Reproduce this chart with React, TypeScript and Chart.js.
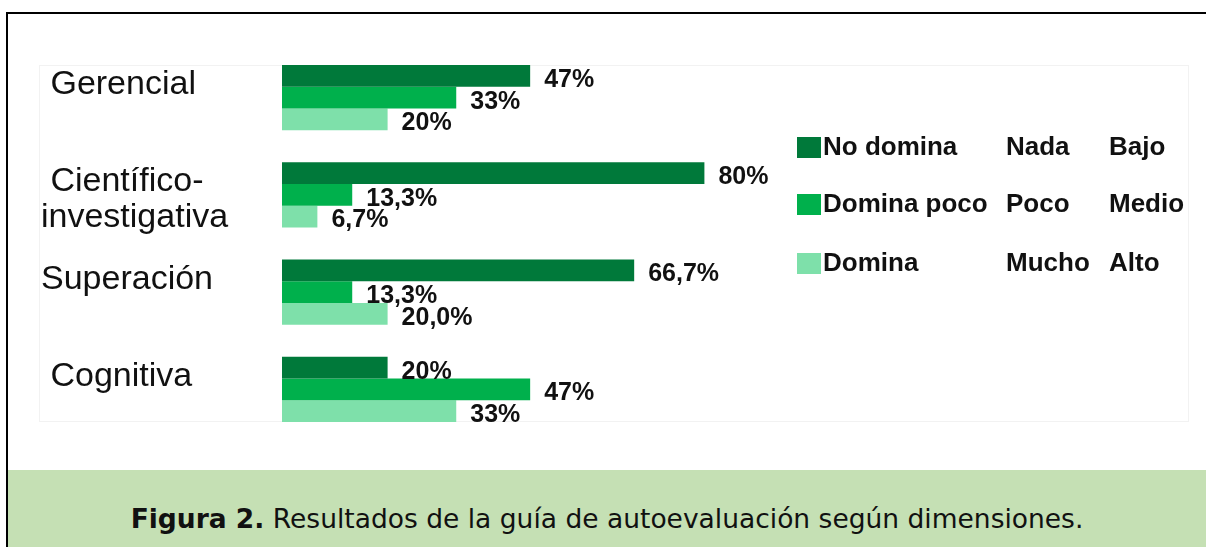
import React, { useEffect, useRef } from "react";
import { Chart, registerables } from "chart.js";

Chart.register(...registerables);

const categories: (string | string[])[] = [" Gerencial", ["", " Científico-", "investigativa"], "Superación", " Cognitiva"];
const seriesNames = ["No domina", "Domina poco", "Domina"];
const legendCol2 = ["Nada", "Poco", "Mucho"];
const legendCol3 = ["Bajo", "Medio", "Alto"];
const noDomina = [47, 80, 66.7, 20];
const dominaPoco = [33, 13.3, 13.3, 47];
const domina = [20, 6.7, 20.0, 33];
const noDominaLabels = ["47%", "80%", "66,7%", "20%"];
const dominaPocoLabels = ["33%", "13,3%", "13,3%", "47%"];
const dominaLabels = ["20%", "6,7%", "20,0%", "33%"];
const colors = ["#00793A", "#00B04C", "#7EE0AA"];
const caption = "Resultados de la guía de autoevaluación según dimensiones.";

const FONT = "'Liberation Sans', Arial, sans-serif";

const valueLabelPlugin = {
  id: "valueLabels",
  afterDatasetsDraw(chart: any) {
    const ctx = chart.ctx;
    const allLabels = [noDominaLabels, dominaPocoLabels, dominaLabels];
    ctx.save();
    ctx.font = `bold 25px ${FONT}`;
    ctx.fillStyle = "#111";
    ctx.textAlign = "left";
    ctx.textBaseline = "middle";
    chart.data.datasets.forEach((ds: any, di: number) => {
      const meta = chart.getDatasetMeta(di);
      meta.data.forEach((bar: any, i: number) => {
        ctx.fillText(allLabels[di][i], bar.x + 14, bar.y + 4);
      });
    });
    ctx.restore();
  },
};

const legendPlugin = {
  id: "customLegend",
  afterDraw(chart: any) {
    const ctx = chart.ctx;
    const rows = [148, 205, 264];
    ctx.save();
    ctx.font = `bold 26px ${FONT}`;
    ctx.textBaseline = "middle";
    ctx.textAlign = "left";
    seriesNames.forEach((name, i) => {
      const y = rows[i];
      ctx.fillStyle = colors[i];
      ctx.fillRect(797, y - 11, 24, 21);
      ctx.fillStyle = "#111";
      ctx.fillText(name, 823, y);
      ctx.fillText(legendCol2[i], 1006, y);
      ctx.fillText(legendCol3[i], 1109, y);
    });
    ctx.restore();
  },
};

const framePlugin = {
  id: "frame",
  beforeDraw(chart: any) {
    const ctx = chart.ctx;
    ctx.save();
    ctx.fillStyle = "#ffffff";
    ctx.fillRect(0, 0, chart.width, chart.height);
    ctx.strokeStyle = "#f2f2f2";
    ctx.lineWidth = 1;
    ctx.strokeRect(39.5, 65.5, 1149, 356);
    ctx.restore();
  },
};

export default function App() {
  const ref = useRef<HTMLCanvasElement>(null);
  useEffect(() => {
    if (!ref.current) return;
    const chart = new Chart(ref.current, {
      type: "bar",
      data: {
        labels: categories,
        datasets: [
          { label: seriesNames[0], data: noDomina, backgroundColor: colors[0] },
          { label: seriesNames[1], data: dominaPoco, backgroundColor: colors[1] },
          { label: seriesNames[2], data: domina, backgroundColor: colors[2] },
        ],
      },
      options: {
        indexAxis: "y",
        animation: false,
        responsive: false,
        devicePixelRatio: 1,
        layout: { padding: { left: 41, right: 396, top: 49, bottom: 32 } },
        datasets: { bar: { barPercentage: 1, categoryPercentage: 0.67, borderWidth: 0 } },
        plugins: { legend: { display: false }, tooltip: { enabled: false } },
        scales: {
          x: { display: false, min: 0, max: 100 },
          y: {
            grid: { display: false },
            border: { display: false },
            afterFit: (s: any) => {
              s.width = 241;
            },
            ticks: {
              crossAlign: "far",
              labelOffset: -13,
              padding: 0,
              autoSkip: false,
              color: "#111",
              font: { family: FONT, size: 34, lineHeight: 1.04 },
            },
          },
        },
      } as any,
      plugins: [framePlugin, valueLabelPlugin, legendPlugin],
    });
    return () => chart.destroy();
  }, []);

  return (
    <div style={{ position: "absolute", left: 0, top: 0, width: 1206, height: 547, background: "#fff", overflow: "hidden" }}>
      <canvas ref={ref} width={1206} height={470} style={{ position: "absolute", left: 0, top: 0, width: 1206, height: 470 }} />
      <div style={{ position: "absolute", left: 6, top: 12, width: 1200, height: 2, background: "#000" }} />
      <div style={{ position: "absolute", left: 6, top: 12, width: 2, height: 535, background: "#000" }} />
      <div
        style={{
          position: "absolute",
          left: 8,
          top: 470,
          width: 1198,
          height: 77,
          background: "#C5E0B4",
        }}
      >
        <div
          style={{
            position: "absolute",
            left: 0,
            right: 0,
            top: 34,
            textAlign: "center",
            fontFamily: "'DejaVu Sans', Verdana, sans-serif",
            fontSize: 26.5,
            lineHeight: "30px",
            color: "#111",
            whiteSpace: "nowrap",
          }}
        >
          <b>Figura 2.</b> {caption}
        </div>
      </div>
    </div>
  );
}
